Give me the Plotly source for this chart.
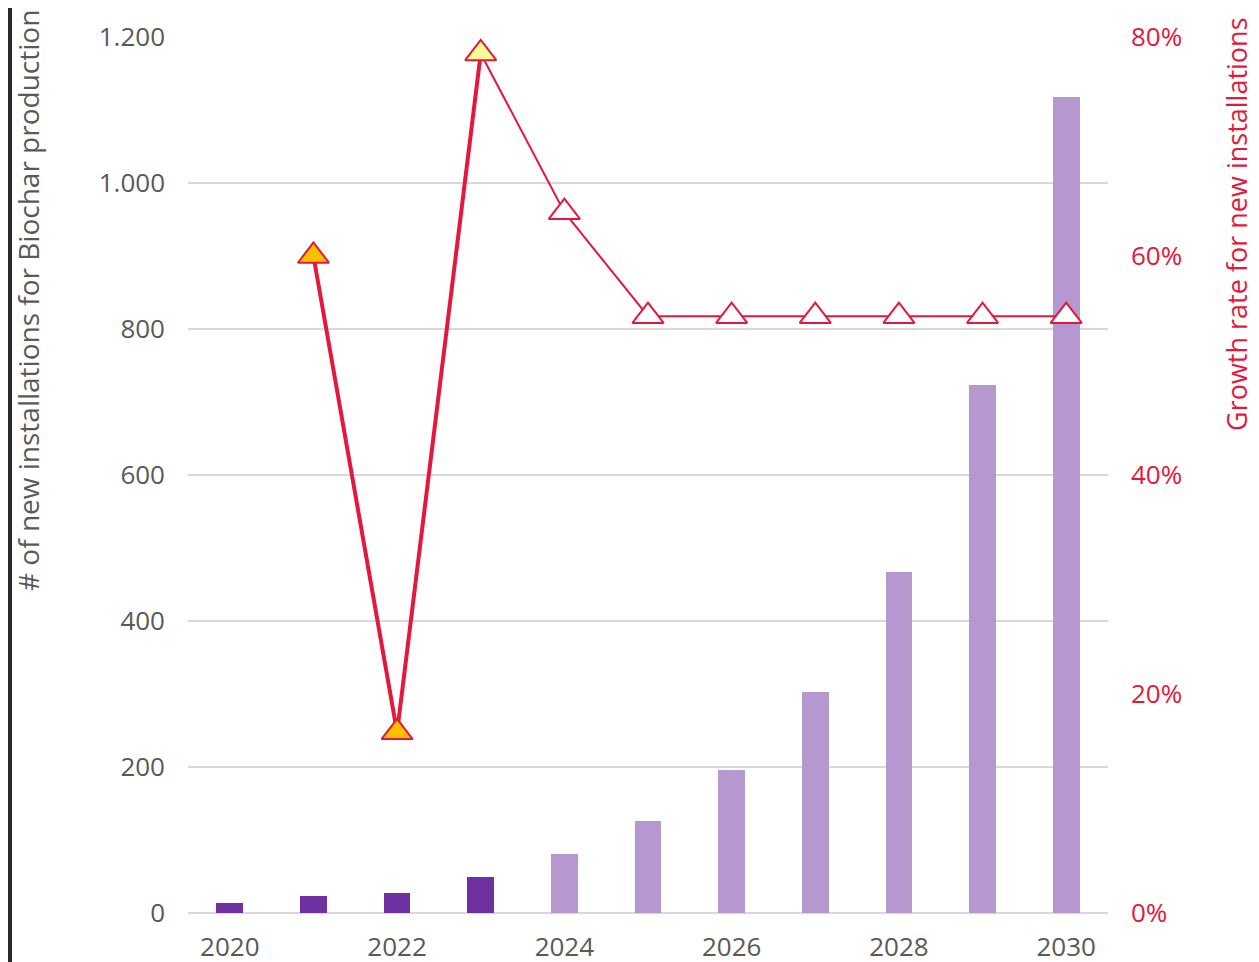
import plotly.graph_objects as go

years = [2020, 2021, 2022, 2023, 2024, 2025, 2026, 2027, 2028, 2029, 2030]
installations = [14, 23, 27, 49, 81, 126, 196, 303, 467, 723, 1118]
bar_colors = ['#7030A0'] * 4 + ['#B598CF'] * 7

growth_years = [2021, 2022, 2023, 2024, 2025, 2026, 2027, 2028, 2029, 2030]
growth_rate = [0.60, 0.165, 0.785, 0.64, 0.545, 0.545, 0.545, 0.545, 0.545, 0.545]
marker_fill = ['#FFC000', '#FFC000', '#FFFF99'] + ['#FFFFFF'] * 7

RED = '#E4183C'
GREY = '#595959'
FONT = 'Open Sans'

fig = go.Figure()

fig.add_trace(go.Bar(
    x=years, y=installations, marker=dict(color=bar_colors, line=dict(width=0)),
    width=0.32, yaxis='y', showlegend=False,
))

# thick segment for the historic years, thin for the projection
fig.add_trace(go.Scatter(
    x=growth_years[:3], y=growth_rate[:3], yaxis='y2', mode='lines',
    line=dict(color=RED, width=4), showlegend=False,
))
fig.add_trace(go.Scatter(
    x=growth_years[2:], y=growth_rate[2:], yaxis='y2', mode='lines',
    line=dict(color=RED, width=2), showlegend=False,
))
fig.add_trace(go.Scatter(
    x=growth_years, y=growth_rate, yaxis='y2', mode='markers',
    marker=dict(symbol='triangle-up', size=27, color=marker_fill,
                line=dict(color=RED, width=2)),
    showlegend=False,
))

# page has an 8px body margin, margins below are relative to the svg
L, R, T, B = 180, 159, 29, 57
pw = 1259 - L - R
ph = 962 - T - B

fig.update_layout(
    width=1259, height=962,
    margin=dict(l=L, r=R, t=T, b=B, autoexpand=False),
    plot_bgcolor='white', paper_bgcolor='white',
    separators=',.',
    font=dict(family=FONT, size=26, color=GREY),
    bargap=0,
    xaxis=dict(
        range=[2019.5, 2030.5], tickvals=[2020, 2022, 2024, 2026, 2028, 2030],
        showgrid=False, zeroline=False, showline=False,
        tickfont=dict(size=26, color=GREY), ticklabelstandoff=16,
    ),
    yaxis=dict(
        range=[0, 1200], tickvals=[0, 200, 400, 600, 800, 1000, 1200],
        separatethousands=True, tickformat=',d',
        showgrid=True, gridcolor='#D9D9D9', gridwidth=2,
        zeroline=True, zerolinecolor='#D9D9D9', zerolinewidth=2,
        tickfont=dict(size=26, color=GREY), ticklabelstandoff=22,
    ),
    yaxis2=dict(
        overlaying='y', side='right', range=[0, 0.8],
        tickvals=[0, 0.2, 0.4, 0.6, 0.8], tickformat='.0%',
        showgrid=False, zeroline=False,
        tickfont=dict(size=26, color=RED), ticklabelstandoff=22,
    ),
    annotations=[
        dict(text='# of new installations for Biochar production',
             xref='paper', yref='paper', x=(20 - L) / pw, y=1 - (293 - T) / ph,
             xanchor='center', yanchor='middle', textangle=-90, showarrow=False,
             font=dict(size=28, color=GREY, family=FONT)),
        dict(text='Growth rate for new installations',
             xref='paper', yref='paper', x=(1228 - L) / pw, y=1 - (216 - T) / ph,
             xanchor='center', yanchor='middle', textangle=-90, showarrow=False,
             font=dict(size=27, color=RED, family=FONT)),
    ],
    shapes=[dict(type='rect', xref='paper', yref='paper',
                 x0=-L / pw, x1=-(L - 4) / pw, y0=-1, y1=2,
                 fillcolor='#2B2B2B', line=dict(width=0), layer='below')],
)

fig.write_html("out.html")
